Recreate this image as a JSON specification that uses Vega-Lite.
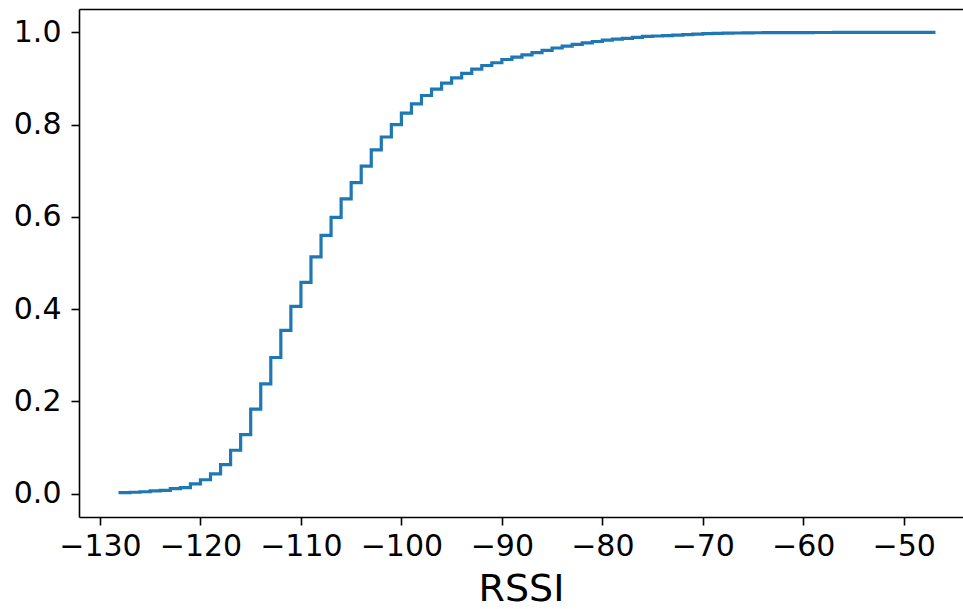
{
  "$schema": "https://vega.github.io/schema/vega-lite/v6.json",
  "autosize": {"type": "none"},
  "padding": {"left": 79, "top": 9, "right": 0, "bottom": 92},
  "width": 884,
  "height": 508,
  "background": "white",
  "config": {
    "view": {"stroke": null},
    "axis": {
      "grid": false,
      "domainColor": "black",
      "domainWidth": 1.6,
      "tickColor": "black",
      "tickWidth": 1.6,
      "tickSize": 8,
      "labelFont": "DejaVu Sans",
      "labelFontSize": 30,
      "labelColor": "black",
      "titleFont": "DejaVu Sans",
      "titleFontWeight": "normal",
      "titleColor": "black"
    }
  },
  "data": {
    "values": [
      {"rssi": -128, "cdf": 0.002},
      {"rssi": -127, "cdf": 0.003},
      {"rssi": -126, "cdf": 0.004},
      {"rssi": -125, "cdf": 0.006},
      {"rssi": -124, "cdf": 0.007},
      {"rssi": -123, "cdf": 0.011},
      {"rssi": -122, "cdf": 0.013},
      {"rssi": -121, "cdf": 0.021},
      {"rssi": -120, "cdf": 0.030},
      {"rssi": -119, "cdf": 0.043},
      {"rssi": -118, "cdf": 0.063},
      {"rssi": -117, "cdf": 0.094},
      {"rssi": -116, "cdf": 0.128},
      {"rssi": -115, "cdf": 0.183},
      {"rssi": -114, "cdf": 0.238},
      {"rssi": -113, "cdf": 0.295},
      {"rssi": -112, "cdf": 0.354},
      {"rssi": -111, "cdf": 0.406},
      {"rssi": -110, "cdf": 0.458},
      {"rssi": -109, "cdf": 0.513},
      {"rssi": -108, "cdf": 0.560},
      {"rssi": -107, "cdf": 0.599},
      {"rssi": -106, "cdf": 0.639},
      {"rssi": -105, "cdf": 0.674},
      {"rssi": -104, "cdf": 0.710},
      {"rssi": -103, "cdf": 0.745},
      {"rssi": -102, "cdf": 0.773},
      {"rssi": -101, "cdf": 0.800},
      {"rssi": -100, "cdf": 0.825},
      {"rssi": -99, "cdf": 0.845},
      {"rssi": -98, "cdf": 0.863},
      {"rssi": -97, "cdf": 0.877},
      {"rssi": -96, "cdf": 0.890},
      {"rssi": -95, "cdf": 0.901},
      {"rssi": -94, "cdf": 0.911},
      {"rssi": -93, "cdf": 0.920},
      {"rssi": -92, "cdf": 0.928},
      {"rssi": -91, "cdf": 0.934},
      {"rssi": -90, "cdf": 0.941},
      {"rssi": -89, "cdf": 0.946},
      {"rssi": -88, "cdf": 0.951},
      {"rssi": -87, "cdf": 0.956},
      {"rssi": -86, "cdf": 0.961},
      {"rssi": -85, "cdf": 0.966},
      {"rssi": -84, "cdf": 0.970},
      {"rssi": -83, "cdf": 0.974},
      {"rssi": -82, "cdf": 0.977},
      {"rssi": -81, "cdf": 0.980},
      {"rssi": -80, "cdf": 0.983},
      {"rssi": -79, "cdf": 0.985},
      {"rssi": -78, "cdf": 0.987},
      {"rssi": -77, "cdf": 0.989},
      {"rssi": -76, "cdf": 0.991},
      {"rssi": -75, "cdf": 0.992},
      {"rssi": -74, "cdf": 0.993},
      {"rssi": -73, "cdf": 0.994},
      {"rssi": -72, "cdf": 0.995},
      {"rssi": -71, "cdf": 0.996},
      {"rssi": -70, "cdf": 0.997},
      {"rssi": -69, "cdf": 0.9975},
      {"rssi": -68, "cdf": 0.998},
      {"rssi": -67, "cdf": 0.9985},
      {"rssi": -66, "cdf": 0.9988},
      {"rssi": -65, "cdf": 0.999},
      {"rssi": -64, "cdf": 0.9991},
      {"rssi": -63, "cdf": 0.9992},
      {"rssi": -62, "cdf": 0.9993},
      {"rssi": -61, "cdf": 0.9994},
      {"rssi": -60, "cdf": 0.9995},
      {"rssi": -59, "cdf": 0.9996},
      {"rssi": -58, "cdf": 0.9996},
      {"rssi": -57, "cdf": 0.9997},
      {"rssi": -56, "cdf": 0.9997},
      {"rssi": -55, "cdf": 0.9998},
      {"rssi": -54, "cdf": 0.9998},
      {"rssi": -53, "cdf": 0.9998},
      {"rssi": -52, "cdf": 0.9999},
      {"rssi": -51, "cdf": 0.9999},
      {"rssi": -50, "cdf": 0.9999},
      {"rssi": -49, "cdf": 0.9999},
      {"rssi": -48, "cdf": 0.9999},
      {"rssi": -47, "cdf": 1.0}
    ]
  },
  "layer": [
    {
      "mark": {"type": "line", "interpolate": "step-after", "color": "#1f77b4", "strokeWidth": 3.2, "strokeCap": "square", "clip": true},
      "encoding": {
        "x": {
          "field": "rssi", "type": "quantitative",
          "scale": {"domain": [-132.09, -44.1], "nice": false, "zero": false},
          "axis": {"orient": "bottom", "values": [-130, -120, -110, -100, -90, -80, -70, -60, -50], "labelExpr": "replace(datum.label, '-', '\u2212')", "labelPadding": 6, "title": "RSSI", "titleFontSize": 38, "titlePadding": 9, "labelFlush": false}
        },
        "y": {
          "field": "cdf", "type": "quantitative",
          "scale": {"domain": [-0.0507, 1.0505], "nice": false, "zero": false},
          "axis": {"orient": "left", "values": [0, 0.2, 0.4, 0.6, 0.8, 1.0], "format": ".1f", "labelPadding": 10, "title": null, "labelFlush": false}
        }
      }
    },
    {
      "mark": {"type": "line", "opacity": 0},
      "encoding": {
        "x": {
          "field": "rssi", "type": "quantitative",
          "axis": {"orient": "top", "labels": false, "ticks": false, "title": null}
        },
        "y": {"field": "cdf", "type": "quantitative"}
      }
    }
  ]
}
